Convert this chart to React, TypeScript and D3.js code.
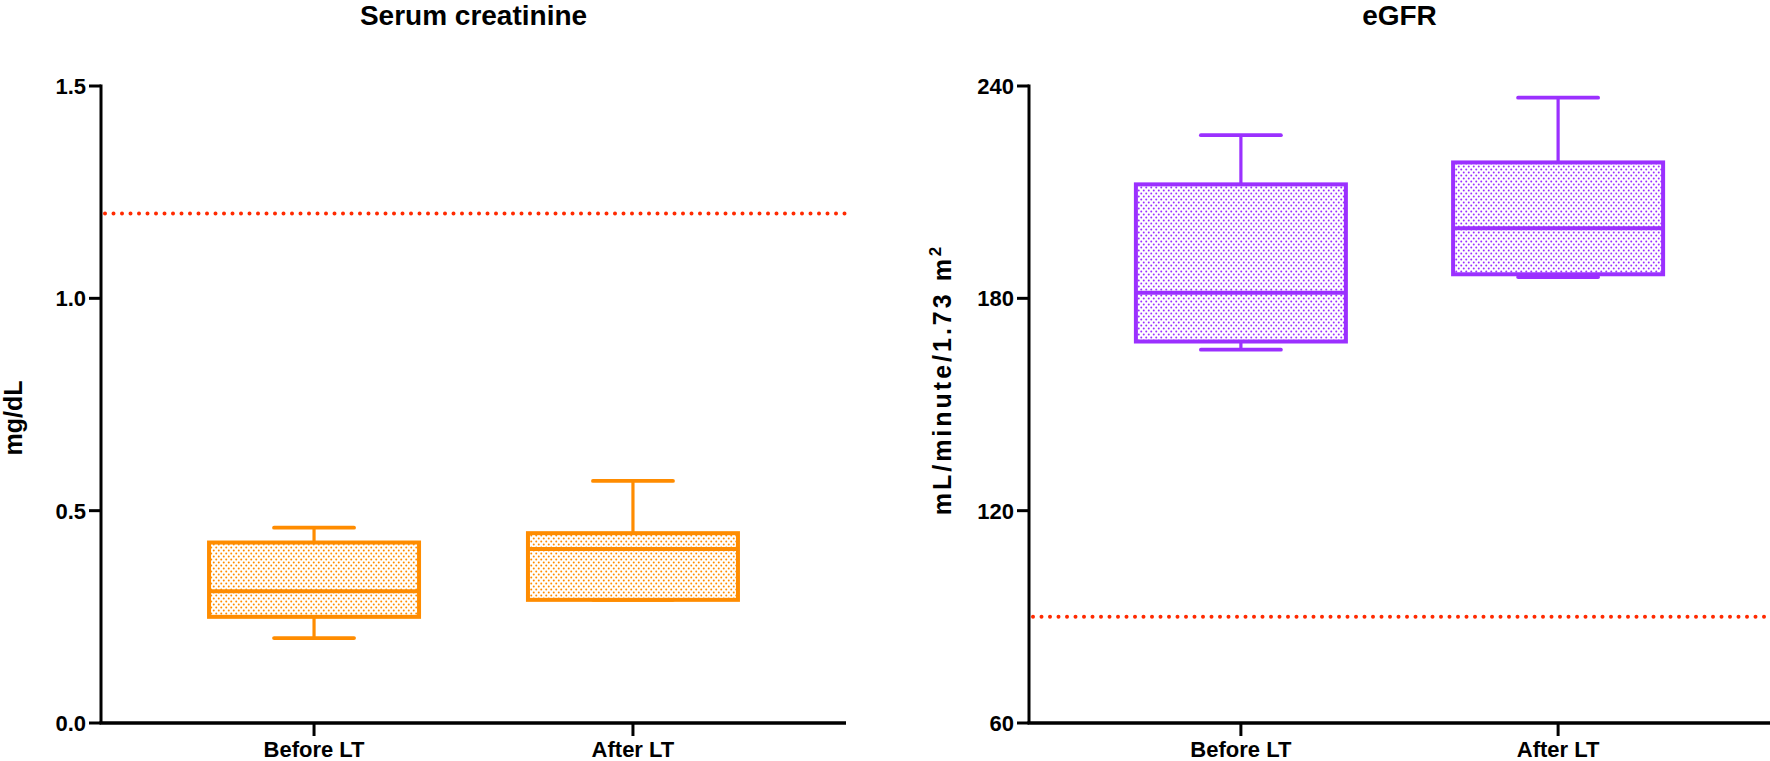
import React from "react";
import * as d3 from "d3";

const groups = ["Before LT", "After LT"];

// Serum creatinine (mg/dL) box stats
const creatMin = [0.2, 0.29];
const creatQ1 = [0.25, 0.29];
const creatMedian = [0.31, 0.41];
const creatQ3 = [0.425, 0.447];
const creatMax = [0.46, 0.57];
const creatRef = 1.2;
const creatTicks = [0, 0.5, 1.0, 1.5];
const creatDomain = [0, 1.5];

// eGFR (mL/minute/1.73 m2) box stats
const egfrMin = [165.5, 186];
const egfrQ1 = [167.8, 186.8];
const egfrMedian = [181.6, 199.8];
const egfrQ3 = [212.2, 218.4];
const egfrMax = [226.1, 236.7];
const egfrRef = 90;
const egfrTicks = [60, 120, 180, 240];
const egfrDomain = [60, 240];

const FONT = "'Liberation Sans', Arial, Helvetica, sans-serif";
const ORANGE = "#FF8C00";
const PURPLE = "#9B30FF";
const RED = "#FF2A00";

type PanelProps = {
  id: string;
  title: string;
  x0: number;
  x1: number;
  domain: number[];
  ticks: number[];
  fmt: (v: number) => string;
  mins: number[];
  q1s: number[];
  meds: number[];
  q3s: number[];
  maxs: number[];
  refValue: number;
  color: string;
  yLabel: React.ReactNode;
  yLabelX: number;
  yLabelY: number;
};

function Panel(p: PanelProps) {
  const top = 86;
  const bottom = 723;
  const y = d3.scaleLinear().domain(p.domain).range([bottom, top]);
  const x = d3.scalePoint<string>().domain(groups).range([p.x0, p.x1]).padding(0.668);
  const boxHalf = 105;
  const capHalf = 40;
  const patId = `dots-${p.id}`;
  return (
    <g>
      <defs>
        <pattern id={patId} width={5} height={6} patternUnits="userSpaceOnUse">
          <rect width={5} height={6} fill="#fff" />
          <circle cx={1.25} cy={1.5} r={1.0} fill={p.color} />
          <circle cx={3.75} cy={4.5} r={1.0} fill={p.color} />
        </pattern>
      </defs>
      {/* title */}
      <text
        x={(p.x0 + p.x1) / 2}
        y={25}
        textAnchor="middle"
        fontFamily={FONT}
        fontWeight="bold"
        fontSize={28}
        fill="#000"
      >
        {p.title}
      </text>
      {/* reference line */}
      <line
        x1={p.x0 + 4}
        x2={p.x1}
        y1={y(p.refValue)}
        y2={y(p.refValue)}
        stroke={RED}
        strokeWidth={4}
        strokeDasharray="0 8.5"
        strokeLinecap="round"
      />
      {/* boxes */}
      {groups.map((g, i) => {
        const cx = x(g) as number;
        return (
          <g key={g} stroke={p.color} fill="none">
            <line x1={cx} x2={cx} y1={y(p.maxs[i])} y2={y(p.q3s[i])} strokeWidth={3.2} />
            <line x1={cx} x2={cx} y1={y(p.q1s[i])} y2={y(p.mins[i])} strokeWidth={3.2} />
            <line x1={cx - capHalf} x2={cx + capHalf} y1={y(p.maxs[i])} y2={y(p.maxs[i])} strokeWidth={3.8} strokeLinecap="round" />
            <line x1={cx - capHalf} x2={cx + capHalf} y1={y(p.mins[i])} y2={y(p.mins[i])} strokeWidth={3.8} strokeLinecap="round" />
            <rect
              x={cx - boxHalf}
              y={y(p.q3s[i])}
              width={boxHalf * 2}
              height={y(p.q1s[i]) - y(p.q3s[i])}
              fill={`url(#${patId})`}
              strokeWidth={4}
            />
            <line x1={cx - boxHalf} x2={cx + boxHalf} y1={y(p.meds[i])} y2={y(p.meds[i])} strokeWidth={4} />
          </g>
        );
      })}
      {/* y axis */}
      <line x1={p.x0} x2={p.x0} y1={top - 1.5} y2={bottom} stroke="#000" strokeWidth={3} />
      {p.ticks.map((t) => (
        <g key={t}>
          <line x1={p.x0 - 12} x2={p.x0} y1={y(t)} y2={y(t)} stroke="#000" strokeWidth={3} />
          <text
            x={p.x0 - 15}
            y={y(t)}
            dy="0.36em"
            textAnchor="end"
            fontFamily={FONT}
            fontWeight="bold"
            fontSize={22}
            fill="#000"
          >
            {p.fmt(t)}
          </text>
        </g>
      ))}
      {/* x axis */}
      <line x1={p.x0 - 1.5} x2={p.x1} y1={bottom} y2={bottom} stroke="#000" strokeWidth={3.5} />
      {groups.map((g) => (
        <g key={g}>
          <line x1={x(g) as number} x2={x(g) as number} y1={bottom} y2={bottom + 13} stroke="#000" strokeWidth={3} />
          <text
            x={x(g) as number}
            y={757}
            textAnchor="middle"
            fontFamily={FONT}
            fontWeight="bold"
            fontSize={22}
            fill="#000"
          >
            {g}
          </text>
        </g>
      ))}
      {/* y label */}
      <text
        transform={`translate(${p.yLabelX},${p.yLabelY}) rotate(-90)`}
        textAnchor="middle"
        fontFamily={FONT}
        fontWeight="bold"
        fontSize={25}
        fill="#000"
      >
        {p.yLabel}
      </text>
    </g>
  );
}

export default function App() {
  const f1 = d3.format(".1f");
  const f0 = d3.format("d");
  return (
    <svg
      width={1770}
      height={761}
      style={{ position: "absolute", left: 0, top: 0, background: "#fff" }}
    >
      <rect width={1770} height={761} fill="#fff" />
      <Panel
        id="creat"
        title="Serum creatinine"
        x0={101}
        x1={846}
        domain={creatDomain}
        ticks={creatTicks}
        fmt={f1}
        mins={creatMin}
        q1s={creatQ1}
        meds={creatMedian}
        q3s={creatQ3}
        maxs={creatMax}
        refValue={creatRef}
        color={ORANGE}
        yLabel="mg/dL"
        yLabelX={22}
        yLabelY={418}
      />
      <Panel
        id="egfr"
        title="eGFR"
        x0={1029}
        x1={1770}
        domain={egfrDomain}
        ticks={egfrTicks}
        fmt={f0}
        mins={egfrMin}
        q1s={egfrMin.map((_, i) => egfrQ1[i])}
        meds={egfrMedian}
        q3s={egfrQ3}
        maxs={egfrMax}
        refValue={egfrRef}
        color={PURPLE}
        yLabel={
          <>
            <tspan letterSpacing={3}>mL/minute/1.73 m</tspan>
            <tspan fontSize={17} dy={-10}>2</tspan>
          </>
        }
        yLabelX={951}
        yLabelY={381}
      />
    </svg>
  );
}
